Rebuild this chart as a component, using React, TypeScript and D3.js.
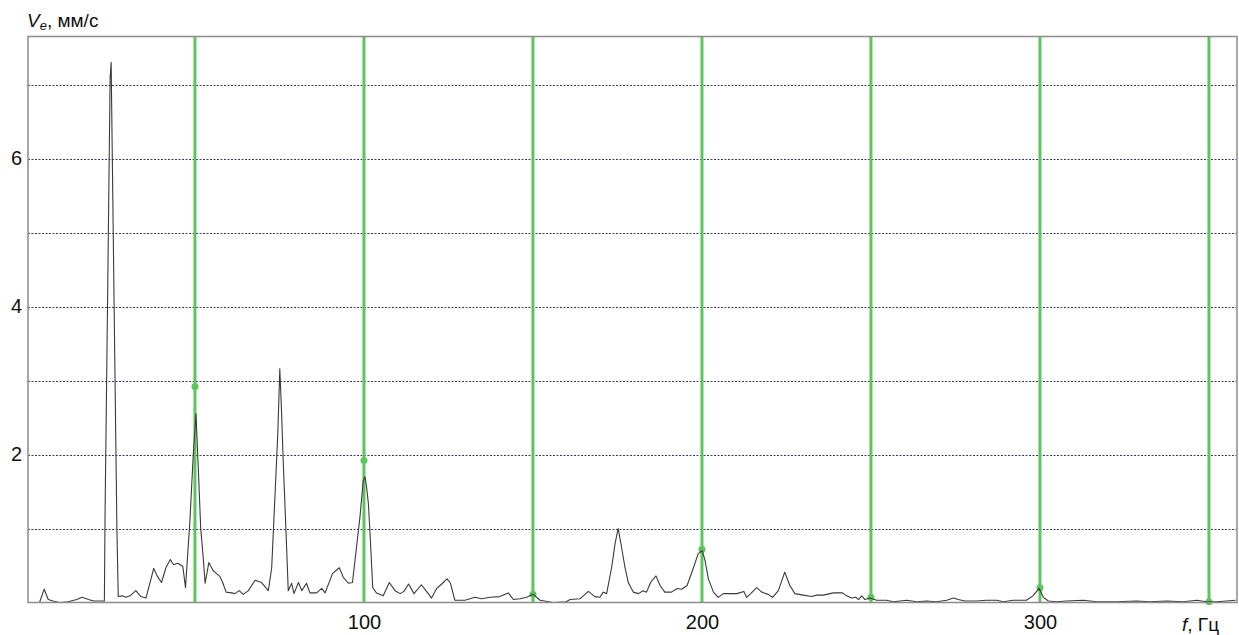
import React, { useEffect, useRef } from "react";
import * as d3 from "d3";

// spectrum
const freqs = [
  4.0, 5.4, 6.6, 8.0, 10.0, 12.5, 15.0, 16.6, 18.5, 20.0, 23.0, 23.2, 23.4, 24.2, 24.9, 25.2, 25.6, 26.3,
  26.9, 27.3, 28.5, 29.6, 30.8, 32.5, 34.0, 35.5, 37.8, 38.8, 40.1, 41.4, 42.7, 43.7, 44.9, 46.4, 47.2,
  48.5, 49.5, 50.3, 51.0, 51.7, 52.5, 53.0, 54.1, 55.4, 57.4, 58.2, 59.2, 60.9, 61.8, 63.1, 64.3, 65.8,
  67.8, 69.7, 71.7, 72.7, 73.7, 74.5, 75.1, 75.6, 76.1, 76.9, 77.6, 78.6, 79.3, 80.6, 81.6, 83.0, 84.0,
  86.0, 87.5, 88.5, 90.7, 92.7, 93.9, 95.4, 96.6, 97.8, 98.8, 99.8, 100.3, 100.8, 101.3, 101.8, 102.6,
  103.7, 105.7, 107.5, 109.2, 110.7, 111.8, 113.2, 114.8, 117.0, 118.5, 120.0, 121.5, 123.0, 124.6,
  125.6, 126.9, 129.9, 132.8, 134.8, 137.3, 140.2, 142.7, 144.2, 146.2, 148.1, 150.1, 152.1, 156.0,
  159.8, 161.0, 163.9, 166.4, 168.3, 169.8, 170.8, 171.8, 173.3, 174.3, 175.2, 176.2, 177.2, 178.2,
  179.7, 181.2, 182.6, 183.6, 184.8, 186.4, 187.6, 189.0, 191.0, 192.7, 194.0, 195.6, 197.4, 198.9,
  200.1, 200.9, 201.9, 203.4, 204.8, 206.3, 208.3, 210.3, 212.4, 213.2, 214.4, 216.2, 217.7, 219.6,
  220.9, 222.6, 224.5, 226.0, 227.5, 230.0, 232.4, 233.9, 235.9, 237.9, 238.9, 240.3, 241.6, 242.8,
  244.3, 245.6, 246.3, 247.3, 248.2, 249.7, 251.7, 254.6, 256.6, 260.6, 263.5, 266.5, 269.4, 272.4,
  274.4, 275.8, 277.8, 281.3, 284.2, 287.2, 289.2, 292.1, 296.0, 297.9, 299.2, 299.8, 301.0, 302.5,
  304.9, 307.9, 312.8, 316.8, 322.7, 328.6, 332.5, 337.5, 342.4, 346.4, 349.3, 352.3, 355.2, 357.9,
];
const amps = [
  0.0, 0.18, 0.04, 0.02, 0.0, 0.01, 0.04, 0.07, 0.04, 0.02, 0.02, 0.02, 1.2, 4.3, 7.1, 7.3, 5.8, 3.2,
  1.0, 0.08, 0.09, 0.07, 0.09, 0.16, 0.08, 0.06, 0.46, 0.36, 0.27, 0.47, 0.58, 0.51, 0.53, 0.49, 0.2,
  1.1, 2.0, 2.55, 1.8, 1.0, 0.57, 0.26, 0.54, 0.43, 0.35, 0.27, 0.14, 0.13, 0.12, 0.16, 0.11, 0.16,
  0.3, 0.27, 0.16, 0.47, 1.47, 2.28, 3.16, 2.6, 1.92, 1.0, 0.16, 0.26, 0.12, 0.27, 0.16, 0.26, 0.13,
  0.13, 0.19, 0.13, 0.39, 0.47, 0.34, 0.26, 0.27, 0.75, 1.15, 1.65, 1.7, 1.55, 1.34, 0.93, 0.2,
  0.13, 0.09, 0.27, 0.16, 0.12, 0.15, 0.25, 0.12, 0.24, 0.15, 0.06, 0.19, 0.25, 0.32,
  0.26, 0.03, 0.03, 0.07, 0.05, 0.07, 0.08, 0.13, 0.04, 0.05, 0.07, 0.11, 0.03, 0.0,
  0.01, 0.04, 0.05, 0.15, 0.08, 0.07, 0.14, 0.12, 0.48, 0.8, 1.0, 0.75, 0.48, 0.27,
  0.14, 0.12, 0.16, 0.14, 0.27, 0.36, 0.23, 0.14, 0.14, 0.19, 0.18, 0.23, 0.46, 0.66,
  0.7, 0.57, 0.32, 0.14, 0.07, 0.12, 0.12, 0.12, 0.15, 0.07, 0.12, 0.2, 0.14, 0.11,
  0.07, 0.16, 0.41, 0.23, 0.12, 0.1, 0.08, 0.1, 0.1, 0.12, 0.13, 0.13, 0.13, 0.09,
  0.06, 0.07, 0.04, 0.09, 0.04, 0.06, 0.03, 0.03, 0.01, 0.03, 0.01, 0.02, 0.01, 0.03,
  0.06, 0.04, 0.02, 0.02, 0.03, 0.03, 0.01, 0.03, 0.03, 0.09, 0.16, 0.19, 0.07, 0.02,
  0.01, 0.02, 0.03, 0.01, 0.01, 0.02, 0.01, 0.02, 0.01, 0.03, 0.01, 0.01, 0.02, 0.03,
];

// harmonic markers (green lines + dots)
const harmonicFreqs = [50, 100, 150, 200, 250, 300, 350];
const harmonicAmps = [2.92, 1.92, 0.11, 0.72, 0.07, 0.2, 0.01];

const gridValues = [1, 2, 3, 4, 5, 6, 7];
const yTickValues = [2, 4, 6];
const xTickValues = [100, 200, 300];

const W = 1239;
const H = 635;
const FONT = "'Liberation Sans', Arial, sans-serif";
const GREEN = "#5cc65c";

export default function App() {
  const ref = useRef<SVGSVGElement>(null);

  useEffect(() => {
    const left = 28;
    const right = 1237;
    const top = 36.5;
    const bottom = 602.5;

    const svg = d3.select(ref.current);
    svg.selectAll("*").remove();

    const x = d3.scaleLinear().domain([0.6, 358.3]).range([left, right]);
    const y = d3.scaleLinear().domain([0, 7.65]).range([bottom, top]);

    svg.append("rect").attr("width", W).attr("height", H).attr("fill", "#fff");

    // dotted grid
    svg.append("g")
      .selectAll("line")
      .data(gridValues)
      .join("line")
      .attr("x1", left)
      .attr("x2", right)
      .attr("y1", (d) => Math.round(y(d)) + 0.5)
      .attr("y2", (d) => Math.round(y(d)) + 0.5)
      .attr("stroke", "#3b3b6b")
      .attr("stroke-width", 1)
      .attr("stroke-dasharray", "2,1.5");

    // harmonic lines
    svg.append("g")
      .selectAll("line")
      .data(harmonicFreqs)
      .join("line")
      .attr("x1", (d) => x(d))
      .attr("x2", (d) => x(d))
      .attr("y1", top)
      .attr("y2", bottom)
      .attr("stroke", GREEN)
      .attr("stroke-width", 3);

    svg.append("g")
      .selectAll("circle")
      .data(harmonicFreqs)
      .join("circle")
      .attr("cx", (d) => x(d))
      .attr("cy", (d, i) => y(harmonicAmps[i]))
      .attr("r", 3.5)
      .attr("fill", GREEN);

    // spectrum
    const pts: [number, number][] = freqs.map((f, i) => [f, amps[i]]);
    const line = d3
      .line<[number, number]>()
      .x((d) => x(d[0]))
      .y((d) => y(d[1]));
    svg.append("path")
      .datum(pts)
      .attr("d", line)
      .attr("fill", "none")
      .attr("stroke", "#3a3a3a")
      .attr("stroke-width", 1.1)
      .attr("stroke-linejoin", "round");

    // frame
    svg.append("path")
      .attr("d", `M${left},${bottom}V${top}H${right}V${bottom}Z`)
      .attr("fill", "none")
      .attr("stroke", "#8c8c8c")
      .attr("stroke-width", 1.5);

    // axes (labels only)
    const xAxis = svg.append("g")
      .attr("transform", `translate(0,${bottom})`)
      .call(d3.axisBottom(x).tickValues(xTickValues).tickSize(0).tickPadding(12));
    xAxis.select(".domain").remove();
    xAxis.selectAll("text").attr("font-size", 20).attr("font-family", FONT).attr("fill", "#111");

    const yAxis = svg.append("g")
      .attr("transform", `translate(${left},0)`)
      .call(d3.axisLeft(y).tickValues(yTickValues).tickSize(0).tickPadding(6));
    yAxis.select(".domain").remove();
    yAxis.selectAll("text").attr("font-size", 20).attr("font-family", FONT).attr("fill", "#111");

    // axis titles
    const yt = svg.append("text")
      .attr("x", 27)
      .attr("y", 27)
      .attr("font-family", FONT)
      .attr("font-size", 19)
      .attr("fill", "#111");
    yt.append("tspan").attr("font-style", "italic").text("V");
    yt.append("tspan").attr("font-style", "italic").attr("font-size", 13).attr("dy", 3).text("e");
    yt.append("tspan").attr("dy", -3).text(", мм/с");

    const xt = svg.append("text")
      .attr("x", 1182)
      .attr("y", 631)
      .attr("font-family", FONT)
      .attr("font-size", 19)
      .attr("fill", "#111");
    xt.append("tspan").attr("font-style", "italic").text("f");
    xt.append("tspan").text(", Гц");
  }, []);

  return (
    <svg
      ref={ref}
      width={W}
      height={H}
      style={{ position: "absolute", left: 0, top: 0, display: "block" }}
    />
  );
}
